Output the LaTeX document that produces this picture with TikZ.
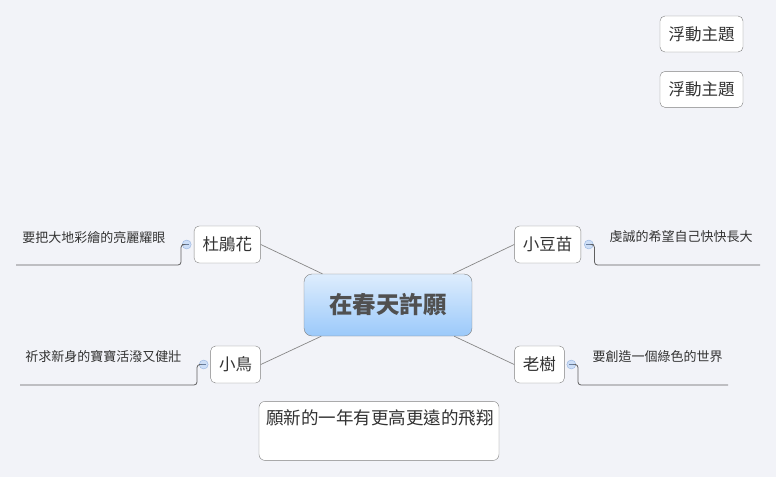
\documentclass[tikz,border=0pt]{standalone}
\usepackage{fontspec}
\setmainfont{Noto Sans CJK TC}
\usetikzlibrary{positioning}

\definecolor{canvas}{RGB}{242,243,248}
\definecolor{boxline}{RGB}{128,128,128}
\definecolor{centraltop}{RGB}{222,237,253}
\definecolor{centralbottom}{RGB}{155,201,250}
\definecolor{centraltext}{RGB}{80,80,80}
\definecolor{branchline}{RGB}{135,135,135}
\definecolor{subline}{RGB}{95,95,95}
\definecolor{foldline}{RGB}{150,180,225}
\definecolor{foldfill}{RGB}{205,222,246}
\definecolor{topictext}{RGB}{50,50,50}

\tikzset{
  topic/.style={draw=boxline, fill=white, rounded corners=5pt,
    minimum height=37pt, inner xsep=8.5pt, font=\fontsize{16.5}{18}\selectfont},
  fold/.style={circle, draw=foldline, fill=foldfill, minimum size=9pt, inner sep=0pt,
    path picture={\draw[foldline!70!black, line width=0.6pt]
      ([xshift=2pt]path picture bounding box.west) -- ([xshift=-2pt]path picture bounding box.east);}},
  note/.style={inner sep=0pt, font=\fontsize{13}{15}\selectfont},
  branch/.style={draw=branchline, line width=0.7pt},
  underline/.style={draw=subline, line width=0.8pt, rounded corners=3pt}
}

\begin{document}
\begin{tikzpicture}[x=1pt, y=-1pt, every node/.style={text=topictext}]
\fill[canvas] (0,0) rectangle (776,477);
\useasboundingbox (0,0) rectangle (776,477);

% central topic
\node (central) at (388,305) [draw=boxline, rounded corners=8pt,
top color=centraltop, bottom color=centralbottom,
minimum width=168pt, minimum height=62pt, text=centraltext,
font=\fontsize{23.5}{26}\selectfont\bfseries] {在春天許願};

% main topics
\node (dujuan) [topic, left=43pt of central, yshift=60.5pt] {杜鵑花};
\node (bird) [topic, left=43pt of central, yshift=-59.5pt] {小鳥};
\node (sprout) [topic, right=42pt of central, yshift=60.5pt] {小豆苗};
\node (tree) [topic, right=42pt of central, yshift=-59.5pt] {老樹};

\draw[branch] (central) -- (dujuan.east);
\draw[branch] (central) -- (bird.east);
\draw[branch] (central) -- (sprout.west);
\draw[branch] (central) -- (tree.west);

% fold buttons
\node (dujuan-fold) [fold, left=2.5pt of dujuan] {};
\node (bird-fold) [fold, left=2pt of bird] {};
\node (sprout-fold) [fold, right=3pt of sprout] {};
\node (tree-fold) [fold, right=2pt of tree] {};

% subtopics
\node (dujuan-note) [note, left=16.5pt of dujuan-fold, yshift=7pt] {要把大地彩繪的亮麗耀眼};
\node (bird-note) [note, left=17.5pt of bird-fold, yshift=8pt] {祈求新身的寶寶活潑又健壯};
\node (sprout-note) [note, right=16pt of sprout-fold, yshift=8pt] {虔誠的希望自己快快長大};
\node (tree-note) [note, right=16.5pt of tree-fold, yshift=8pt] {要創造一個綠色的世界};

\coordinate (dujuan-end) at (16,265);
\coordinate (bird-end) at (20,385);
\coordinate (sprout-end) at (760,265);
\coordinate (tree-end) at (728,385);

\draw[underline] (dujuan-fold.west) -- ++(-1pt,0) |- (dujuan-end);
\draw[underline] (bird-fold.west) -- ++(-2pt,0) |- (bird-end);
\draw[underline] (sprout-fold.east) -- ++(1pt,0) |- (sprout-end);
\draw[underline] (tree-fold.east) -- ++(2pt,0) |- (tree-end);

% floating topics
\node (float1) at (701.5,34) [topic, minimum height=36pt] {浮動主題};
\node (float2) [topic, minimum height=36pt, below=19pt of float1] {浮動主題};

% free note box
\node (wish) [draw=boxline, fill=white, rounded corners=6pt, below=65pt of central,
xshift=-9pt, text width=226pt, align=left, inner xsep=7pt, inner ysep=6pt,
text height=17pt, text depth=30pt, font=\fontsize{17.5}{20}\selectfont] {願新的一年有更高更遠的飛翔};
\end{tikzpicture}
\end{document}
